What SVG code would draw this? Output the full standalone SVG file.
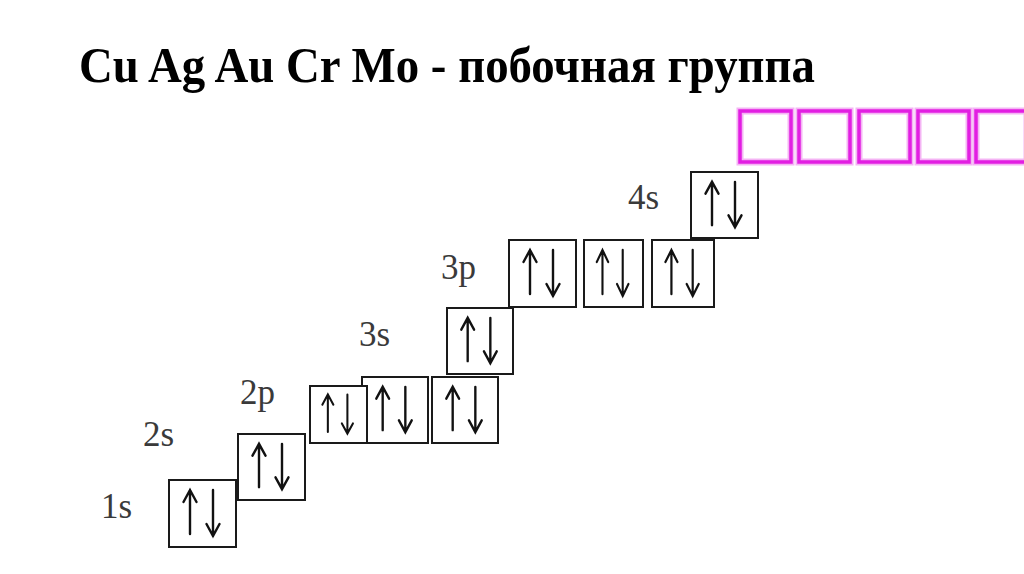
<svg xmlns="http://www.w3.org/2000/svg" xmlns:xlink="http://www.w3.org/1999/xlink" width="1024" height="574" viewBox="0 0 1024 574">
<style>
.title{font-family:"Liberation Serif","Times New Roman",serif;font-weight:bold;font-size:50px;fill:#000}
.lbl{font-family:"Liberation Serif","Times New Roman",serif;font-size:35px;fill:#3a3a3a}
.box{fill:#fff;stroke:#1a1a1a;stroke-width:2}
.arr{fill:none;stroke:#111;stroke-width:2.4;stroke-linecap:round;stroke-linejoin:miter}
.mg{fill:none;stroke:#f4b4f4;stroke-width:7}
.mg2{fill:none;stroke:#e21ee2;stroke-width:3.5}
</style>
<defs>
<g id="spin">
<path class="arr" d="M21,10 V54 M14.5,22 L21,10 L27.5,22"/>
<path class="arr" d="M44,10 V56 M37.5,44 L44,56 L50.5,44"/>
</g>
</defs>
<rect width="1024" height="574" fill="#fff"/>
<text class="title" x="79" y="82" textLength="736" lengthAdjust="spacingAndGlyphs">Cu Ag Au Cr Mo - побочная группа</text>

<g id="d-cells">
<rect class="mg" x="740" y="111" width="51" height="51"/>
<rect class="mg2" x="740" y="111" width="51" height="51"/>
<rect class="mg" x="799" y="111" width="51" height="51"/>
<rect class="mg2" x="799" y="111" width="51" height="51"/>
<rect class="mg" x="859" y="111" width="51" height="51"/>
<rect class="mg2" x="859" y="111" width="51" height="51"/>
<rect class="mg" x="918" y="111" width="51" height="51"/>
<rect class="mg2" x="918" y="111" width="51" height="51"/>
<rect class="mg" x="976" y="111" width="51" height="51"/>
<rect class="mg2" x="976" y="111" width="51" height="51"/>
</g>

<g id="n1s">
<text class="lbl" x="101" y="518">1s</text>
<rect class="box" x="169" y="480" width="67" height="67"/>
<use xlink:href="#spin" transform="translate(169,480)"/>
</g>
<g id="n2s">
<text class="lbl" x="143" y="446">2s</text>
<rect class="box" x="238" y="434" width="67" height="66"/>
<use xlink:href="#spin" transform="translate(238,434) scale(1,0.985)"/>
</g>
<g id="n2p">
<text class="lbl" x="240" y="404">2p</text>
<rect class="box" x="362" y="377" width="66" height="66"/>
<use xlink:href="#spin" transform="translate(362,377) scale(0.985)"/>
<rect class="box" x="310" y="386" width="57" height="57"/>
<use xlink:href="#spin" transform="translate(310,386) scale(0.85)"/>
<rect class="box" x="432" y="377" width="66" height="66"/>
<use xlink:href="#spin" transform="translate(432,377) scale(0.985)"/>
</g>
<g id="n3s">
<text class="lbl" x="359" y="346">3s</text>
<rect class="box" x="447" y="308" width="66" height="66"/>
<use xlink:href="#spin" transform="translate(447,308) scale(0.985)"/>
</g>
<g id="n3p">
<text class="lbl" x="441" y="279">3p</text>
<rect class="box" x="509" y="240" width="67" height="67"/>
<use xlink:href="#spin" transform="translate(509,240)"/>
<rect class="box" x="584" y="240" width="59" height="67"/>
<use xlink:href="#spin" transform="translate(584,240) scale(0.88,1)"/>
<rect class="box" x="652" y="240" width="62" height="67"/>
<use xlink:href="#spin" transform="translate(652,240) scale(0.925,1)"/>
</g>
<g id="n4s">
<text class="lbl" x="628" y="209">4s</text>
<rect class="box" x="691" y="172" width="67" height="66"/>
<use xlink:href="#spin" transform="translate(691,172) scale(1,0.985)"/>
</g>
<g id="connectors"/>
</svg>
